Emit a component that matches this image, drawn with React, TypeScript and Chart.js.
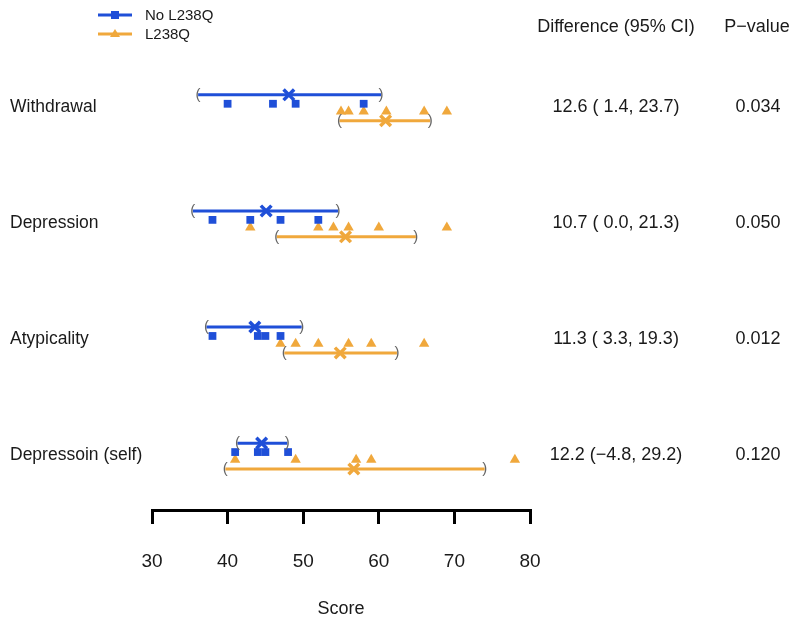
import React, { useEffect, useRef } from "react";
import { Chart, registerables } from "chart.js";
Chart.register(...registerables);

// ---------- data ----------
const categories = ["Withdrawal", "Depression", "Atypicality", "Depressoin (self)"];
const seriesNames = ["No L238Q", "L238Q"];
const noL238QScores = [
  [40, 46, 49, 58],
  [38, 43, 47, 52],
  [38, 44, 45, 47],
  [41, 44, 45, 48],
];
const l238QScores = [
  [55, 56, 58, 61, 66, 69],
  [43, 52, 54, 56, 60, 69],
  [47, 49, 52, 56, 59, 66],
  [41, 49, 57, 59, 78],
];
const noL238QMean = [48.1, 45.1, 43.6, 44.5];
const noL238QLow = [36.1, 35.4, 37.2, 41.3];
const noL238QHigh = [60.3, 54.6, 49.8, 47.9];
const l238QMean = [60.9, 55.6, 54.9, 56.7];
const l238QLow = [54.8, 46.5, 47.5, 39.7];
const l238QHigh = [66.8, 64.9, 62.4, 74.0];
const differences = ["12.6 ( 1.4, 23.7)", "10.7 ( 0.0, 21.3)", "11.3 ( 3.3, 19.3)", "12.2 (\u22124.8, 29.2)"];
const pValues = ["0.034", "0.050", "0.012", "0.120"];
const xTicks = [30, 40, 50, 60, 70, 80];
const headerDiff = "Difference (95% CI)";
const headerP = "P\u2212value";
const xTitle = "Score";

// ---------- style / layout ----------
const BLUE = "#1f4fd8";
const ORANGE = "#f0a83c";
const TEXT = "#1a1a1a";
const FONT = "'Liberation Sans', Arial, Helvetica, sans-serif";
const OFF_BLUE_CI = -0.103;
const OFF_BLUE_PT = -0.026;
const OFF_ORANGE_PT = 0.04;
const OFF_ORANGE_CI = 0.12;

function buildDatasets() {
  const ds: any[] = [];
  const groups = [
    { name: seriesNames[0], scores: noL238QScores, mean: noL238QMean, low: noL238QLow, high: noL238QHigh, color: BLUE, style: "rect", r: 5.5, offPt: OFF_BLUE_PT, offCi: OFF_BLUE_CI },
    { name: seriesNames[1], scores: l238QScores, mean: l238QMean, low: l238QLow, high: l238QHigh, color: ORANGE, style: "triangle", r: 6, offPt: OFF_ORANGE_PT, offCi: OFF_ORANGE_CI },
  ];
  groups.forEach((g) => {
    categories.forEach((_, i) => {
      ds.push({
        type: "line",
        label: g.name + " CI " + i,
        data: [
          { x: g.low[i], y: i + g.offCi },
          { x: g.high[i], y: i + g.offCi },
        ],
        borderColor: g.color,
        borderWidth: 3,
        pointRadius: 0,
        showLine: true,
        fill: false,
      });
    });
    ds.push({
      type: "scatter",
      label: g.name + " mean",
      data: g.mean.map((m, i) => ({ x: m, y: i + g.offCi })),
      pointStyle: "crossRot",
      pointRadius: 7.5,
      borderColor: g.color,
      borderWidth: 3.5,
      backgroundColor: g.color,
    });
    ds.push({
      type: "scatter",
      label: g.name,
      data: g.scores.flatMap((row, i) => row.map((v) => ({ x: v, y: i + g.offPt }))),
      pointStyle: g.style,
      pointRadius: g.r,
      backgroundColor: g.color,
      borderColor: g.color,
      borderWidth: 0,
    });
  });
  return ds;
}

const textPlugin = {
  id: "forestText",
  afterDatasetsDraw(chart: any) {
    const ctx = chart.ctx;
    const xs = chart.scales.x;
    const ys = chart.scales.y;
    ctx.save();
    // CI brackets
    ctx.font = `15px ${FONT}`;
    ctx.fillStyle = "#666";
    ctx.textAlign = "center";
    ctx.textBaseline = "middle";
    categories.forEach((_, i) => {
      const yb = ys.getPixelForValue(i + OFF_BLUE_CI);
      ctx.fillText("(", xs.getPixelForValue(noL238QLow[i]), yb);
      ctx.fillText(")", xs.getPixelForValue(noL238QHigh[i]), yb);
      const yo = ys.getPixelForValue(i + OFF_ORANGE_CI);
      ctx.fillText("(", xs.getPixelForValue(l238QLow[i]), yo);
      ctx.fillText(")", xs.getPixelForValue(l238QHigh[i]), yo);
    });
    ctx.restore();
  },
  afterDraw(chart: any) {
    const ctx = chart.ctx;
    const ys = chart.scales.y;
    ctx.save();
    ctx.fillStyle = TEXT;
    ctx.textBaseline = "middle";
    // row labels
    ctx.font = `17.5px ${FONT}`;
    ctx.textAlign = "left";
    categories.forEach((c, i) => ctx.fillText(c, 10, ys.getPixelForValue(i)));
    // table
    ctx.font = `18px ${FONT}`;
    ctx.textAlign = "center";
    ctx.fillText(headerDiff, 616, 27);
    ctx.fillText(headerP, 757, 27);
    categories.forEach((_, i) => {
      const y = ys.getPixelForValue(i);
      ctx.fillText(differences[i], 616, y);
      ctx.fillText(pValues[i], 758, y);
    });
    // legend
    const items = [
      { label: seriesNames[0], color: BLUE, style: "rect", y: 15 },
      { label: seriesNames[1], color: ORANGE, style: "triangle", y: 34 },
    ];
    items.forEach((it) => {
      ctx.strokeStyle = it.color;
      ctx.lineWidth = 3;
      ctx.beginPath();
      ctx.moveTo(98, it.y);
      ctx.lineTo(132, it.y);
      ctx.stroke();
      ctx.fillStyle = it.color;
      ctx.beginPath();
      if (it.style === "rect") {
        ctx.rect(111, it.y - 4, 8, 8);
      } else {
        ctx.moveTo(115, it.y - 5);
        ctx.lineTo(120, it.y + 3);
        ctx.lineTo(110, it.y + 3);
        ctx.closePath();
      }
      ctx.fill();
      ctx.fillStyle = TEXT;
      ctx.font = `15px ${FONT}`;
      ctx.textAlign = "left";
      ctx.fillText(it.label, 145, it.y + 1);
    });
    ctx.restore();
  },
};

export default function App() {
  const ref = useRef<HTMLCanvasElement | null>(null);
  useEffect(() => {
    if (!ref.current) return;
    Chart.defaults.font.family = FONT;
    const chart = new Chart(ref.current, {
      type: "scatter",
      data: { datasets: buildDatasets() },
      options: {
        animation: false,
        responsive: false,
        events: [],
        layout: { padding: { left: 152, right: 270, top: 0, bottom: 0 } },
        plugins: { legend: { display: false }, tooltip: { enabled: false } },
        scales: {
          x: {
            type: "linear",
            min: 30,
            max: 80,
            afterBuildTicks: (s: any) => {
              s.ticks = xTicks.map((v) => ({ value: v }));
            },
            afterFit: (s: any) => {
              s.height = 117;
            },
            ticks: { font: { size: 19 }, color: TEXT, padding: 26, maxRotation: 0, autoSkip: false },
            grid: { display: true, drawOnChartArea: false, drawTicks: true, tickLength: 14, color: "#000", lineWidth: 3 },
            border: { display: true, color: "#000", width: 3 },
            title: { display: true, text: xTitle, font: { size: 18 }, color: TEXT, padding: { top: 0, bottom: 7 } },
          },
          y: {
            type: "linear",
            display: false,
            reverse: true,
            min: -0.825,
            max: 3.473,
          },
        },
      },
      plugins: [textPlugin],
    } as any);
    return () => chart.destroy();
  }, []);
  return (
    <div style={{ position: "absolute", left: 0, top: 0, width: 800, height: 627, background: "#fff" }}>
      <canvas ref={ref} width={800} height={627} />
    </div>
  );
}
